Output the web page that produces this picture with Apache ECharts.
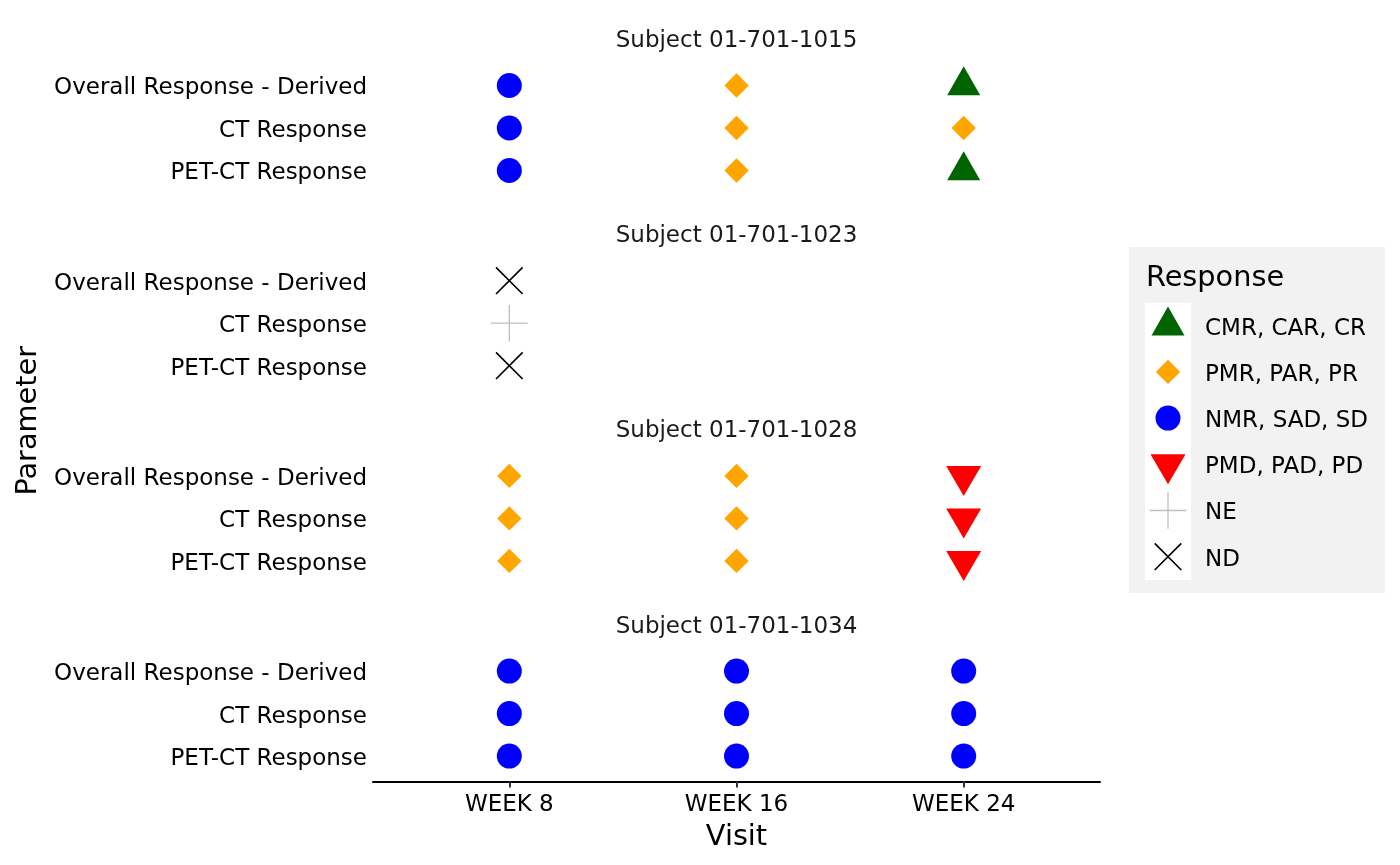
<!DOCTYPE html>
<html>
<head>
<meta charset="utf-8">
<script src="https://cdn.jsdelivr.net/npm/echarts@6/dist/echarts.min.js"></script>
<style>
html,body{margin:0;padding:0;background:#fff;}
#chart{width:1400px;height:865px;}
</style>
</head>
<body>
<div id="chart"></div>
<script>
// ---------- data ----------
const visits = ['WEEK 8', 'WEEK 16', 'WEEK 24'];
const params = ['Overall Response - Derived', 'CT Response', 'PET-CT Response'];
const subjects = ['Subject 01-701-1015', 'Subject 01-701-1023', 'Subject 01-701-1028', 'Subject 01-701-1034'];
const responseCodes = ['CR', 'PR', 'SD', 'PD', 'NE', 'ND'];
const responseLabels = ['CMR, CAR, CR', 'PMR, PAR, PR', 'NMR, SAD, SD', 'PMD, PAD, PD', 'NE', 'ND'];
// rows = parameters, columns = visits
const subj1015 = [['SD', 'PR', 'CR'], ['SD', 'PR', 'PR'], ['SD', 'PR', 'CR']];
const subj1023 = [['ND', null, null], ['NE', null, null], ['ND', null, null]];
const subj1028 = [['PR', 'PR', 'PD'], ['PR', 'PR', 'PD'], ['PR', 'PR', 'PD']];
const subj1034 = [['SD', 'SD', 'SD'], ['SD', 'SD', 'SD'], ['SD', 'SD', 'SD']];
const subjectData = [subj1015, subj1023, subj1028, subj1034];

// ---------- styles ----------
const responseColors = ['#006400', '#FFA500', '#0000FF', '#FF0000', '#BEBEBE', '#000000'];
const FRAME = 'M-23 -23 M23 23 ';
const responseSymbols = [
  'path://' + FRAME + 'M0 -19.3 L16.5 9.7 L-16.5 9.7 Z',
  'path://' + FRAME + 'M0 -12.2 L12.2 0 L0 12.2 L-12.2 0 Z',
  'path://' + FRAME + 'M-12.5 0 A12.5 12.5 0 1 0 12.5 0 A12.5 12.5 0 1 0 -12.5 0 Z',
  'path://' + FRAME + 'M-17.5 -10 L17.5 -10 L0 20 Z',
  'path://' + FRAME + 'M-0.65 -18.3 L0.65 -18.3 L0.65 18.3 L-0.65 18.3 Z M-18.3 -0.65 L18.3 -0.65 L18.3 0.65 L-18.3 0.65 Z',
  'path://' + FRAME + 'M-12.73 -13.87 L13.87 12.73 L12.73 13.87 L-13.87 -12.73 Z M-13.87 12.73 L12.73 -13.87 L13.87 -12.73 L-12.73 13.87 Z'
];
const FONT = 'DejaVu Sans';
const PANEL_LEFT = 373, PANEL_RIGHT = 300, PANEL_H = 136, PANEL_TOP0 = 60, PANEL_STEP = 195.2;
const shifted = {fontFamily: FONT, fontSize: 23, color: '#000', padding: [6, 0, 0, 0]};

const chart = echarts.init(document.getElementById('chart'), null, {renderer: 'canvas'});

const grids = [], xAxes = [], yAxes = [], series = [], graphics = [];
subjects.forEach((subj, i) => {
  const top = PANEL_TOP0 + PANEL_STEP * i;
  const last = i === subjects.length - 1;
  grids.push({left: PANEL_LEFT, right: PANEL_RIGHT, top: top, height: PANEL_H, containLabel: false});
  xAxes.push({
    gridIndex: i, type: 'value', min: 0.4, max: 3.6, show: last,
    splitLine: {show: false},
    axisLine: {show: last, onZero: false, lineStyle: {color: '#000', width: 2}},
    axisTick: {show: last, customValues: [1, 2, 3], length: 6, lineStyle: {color: '#333', width: 2}},
    axisLabel: {show: last, customValues: [1, 2, 3], margin: 12, fontFamily: FONT, fontSize: 23, color: '#000',
      formatter: v => visits[Math.round(v) - 1] || ''},
    name: last ? 'Visit' : '', nameLocation: 'middle', nameGap: 41,
    nameTextStyle: {fontFamily: FONT, fontSize: 28.75, color: '#000'}
  });
  yAxes.push({
    gridIndex: i, type: 'value', min: 0.4, max: 3.6, inverse: true,
    splitLine: {show: false}, axisLine: {show: false}, axisTick: {show: false},
    axisLabel: {customValues: [1, 2, 3], margin: 6, fontFamily: FONT, fontSize: 23, color: '#000',
      rich: {p: shifted},
      formatter: v => '{p|' + (params[Math.round(v) - 1] || '') + '}'}
  });
  graphics.push({
    type: 'text', x: PANEL_LEFT + (1400 - PANEL_LEFT - PANEL_RIGHT) / 2, y: top - 19,
    style: {text: subj, fontFamily: FONT, fontSize: 23, fill: '#1a1a1a', textAlign: 'center', textVerticalAlign: 'middle'}
  });
  const rows = subjectData[i];
  responseCodes.forEach((code, r) => {
    const pts = [];
    rows.forEach((row, p) => row.forEach((val, v) => { if (val === code) pts.push([v + 1, p + 1]); }));
    if (!pts.length) return;
    series.push({
      type: 'scatter', name: responseLabels[r], xAxisIndex: i, yAxisIndex: i,
      data: pts, symbol: responseSymbols[r], symbolSize: 46,
      itemStyle: {color: responseColors[r], opacity: 1},
      emphasis: {disabled: true}, silent: true
    });
  });
});

// legend decorations
graphics.push({type: 'rect', z: 0, shape: {x: 1129, y: 247, width: 256, height: 346}, style: {fill: '#F2F2F2'}});
graphics.push({type: 'rect', z: 0, shape: {x: 1145, y: 302.7, width: 46, height: 277.2}, style: {fill: '#FFFFFF'}});
graphics.push({type: 'text', z: 1, x: 1146, y: 279, style: {text: 'Response', fontFamily: FONT, fontSize: 28.75, fill: '#000', textVerticalAlign: 'middle'}});
graphics.push({type: 'text', z: 1, x: 29, y: PANEL_TOP0 + (PANEL_STEP * 3 + PANEL_H) / 2, rotation: Math.PI / 2,
  style: {text: 'Parameter', fontFamily: FONT, fontSize: 28.75, fill: '#000', textAlign: 'center', textVerticalAlign: 'middle'}});

chart.setOption({
  animation: false,
  backgroundColor: '#fff',
  grid: grids, xAxis: xAxes, yAxis: yAxes,
  legend: {
    orient: 'vertical', left: 1145, top: 302.7, padding: 0,
    itemWidth: 64, itemHeight: 46, itemGap: 0.2, selectedMode: false, symbolKeepAspect: true,
    textStyle: {fontFamily: FONT, fontSize: 23, color: '#000', rich: {p: shifted}},
    formatter: name => '{p|' + name + '}',
    data: responseLabels.map((name, r) => ({name: name, icon: responseSymbols[r], itemStyle: {color: responseColors[r]}}))
  },
  graphic: graphics,
  series: series
});
</script>
</body>
</html>
